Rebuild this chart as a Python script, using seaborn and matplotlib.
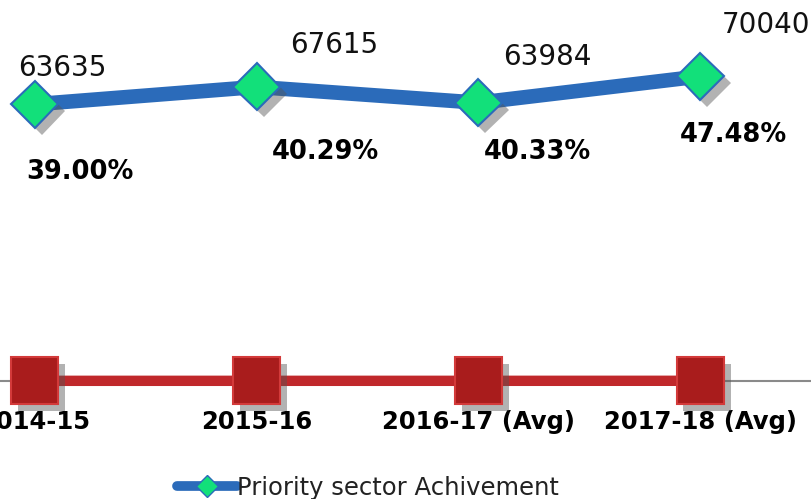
import numpy as np
import pandas as pd
import seaborn as sns
import matplotlib
matplotlib.use("Agg")
import matplotlib.pyplot as plt
import matplotlib.patheffects as pe

# data
years = ["2014-15", "2015-16", "2016-17 (Avg)", "2017-18 (Avg)"]
achievement = [63635, 67615, 63984, 70040]
share_pct = [39.00, 40.29, 40.33, 47.48]
# red series sits on the baseline, values too small to read (share in %)
share_series = share_pct

sns.set_theme(style="white")
plt.rcParams["font.family"] = ["DejaVu Sans"]

df = pd.DataFrame({"pos": np.arange(len(years)), "year": years,
                   "achievement": achievement, "share": share_series})

fig = plt.figure(figsize=(8.11, 4.99), dpi=100)
ax = fig.add_axes([-76 / 811, 118 / 499, 887 / 811, 381 / 499])

shadow = [pe.SimplePatchShadow(offset=(5, -5), shadow_rgbFace="#555555",
                               alpha=0.45), pe.Normal()]

# blue line
sns.lineplot(data=df, x="pos", y="achievement", ax=ax, color="#2B6BBA",
             linewidth=10.5, legend=False, zorder=3)
# red line
sns.lineplot(data=df, x="pos", y="share", ax=ax, color="#C0282B",
             linewidth=7.5, legend=False, zorder=3, clip_on=False)
# markers on top with drop shadow
sns.lineplot(data=df, x="pos", y="achievement", ax=ax, linestyle="",
             marker="D", markersize=24, markerfacecolor="#12E07A",
             markeredgecolor="#2B6BBA", markeredgewidth=1.5, legend=False,
             zorder=5, path_effects=shadow, clip_on=False)
sns.lineplot(data=df, x="pos", y="share", ax=ax, linestyle="",
             marker="s", markersize=34, markerfacecolor="#A91C1C",
             markeredgecolor="#D33A3A", markeredgewidth=1.5, legend=False,
             zorder=5, path_effects=shadow, clip_on=False)

# value labels
val_off = [(27, 36), (78, 42), (69, 46), (66, 51)]
for i, v in enumerate(achievement):
    ax.annotate(f"{v}", (i, v), xytext=val_off[i], textcoords="offset pixels",
                ha="center", va="center", fontsize=20, color="#111111", zorder=6)

pct_off = [(45, -68), (69, -65), (59, -49), (33, -59)]
for i, p in enumerate(share_pct):
    ax.annotate(f"{p:.2f}%", (i, achievement[i]), xytext=pct_off[i],
                textcoords="offset pixels", ha="center", va="center",
                fontsize=18.5, fontweight="bold", color="black", zorder=6)

ax.set_xlim(-0.5, len(years) - 0.5)
ax.set_ylim(0, 87600)
ax.set_xticks(df["pos"])
ax.set_xticklabels(years, fontsize=17.5, fontweight="bold", color="black")
ax.tick_params(axis="x", length=0, pad=21)
ax.set_yticks([])
ax.set_xlabel("")
ax.set_ylabel("")
for s in ["top", "left", "right"]:
    ax.spines[s].set_visible(False)
ax.spines["bottom"].set_color("#8a8a8a")
ax.spines["bottom"].set_linewidth(1.5)
ax.spines["bottom"].set_zorder(1)
ax.patch.set_alpha(0)

# legend (only the blue series is visible in the crop)
handle = plt.Line2D([], [], color="#2B6BBA", linewidth=7, marker="D",
                    markersize=11, markerfacecolor="#12E07A",
                    markeredgecolor="#2B6BBA")
leg = fig.legend([handle], ["Priority sector Achivement"], loc="center",
                 bbox_to_anchor=(368 / 811, 11 / 499), frameon=False,
                 fontsize=17.5, handlelength=2.5, handletextpad=0.0,
                 borderaxespad=0)
for t in leg.get_texts():
    t.set_color("#222222")

fig.savefig("out.png", dpi=100)
